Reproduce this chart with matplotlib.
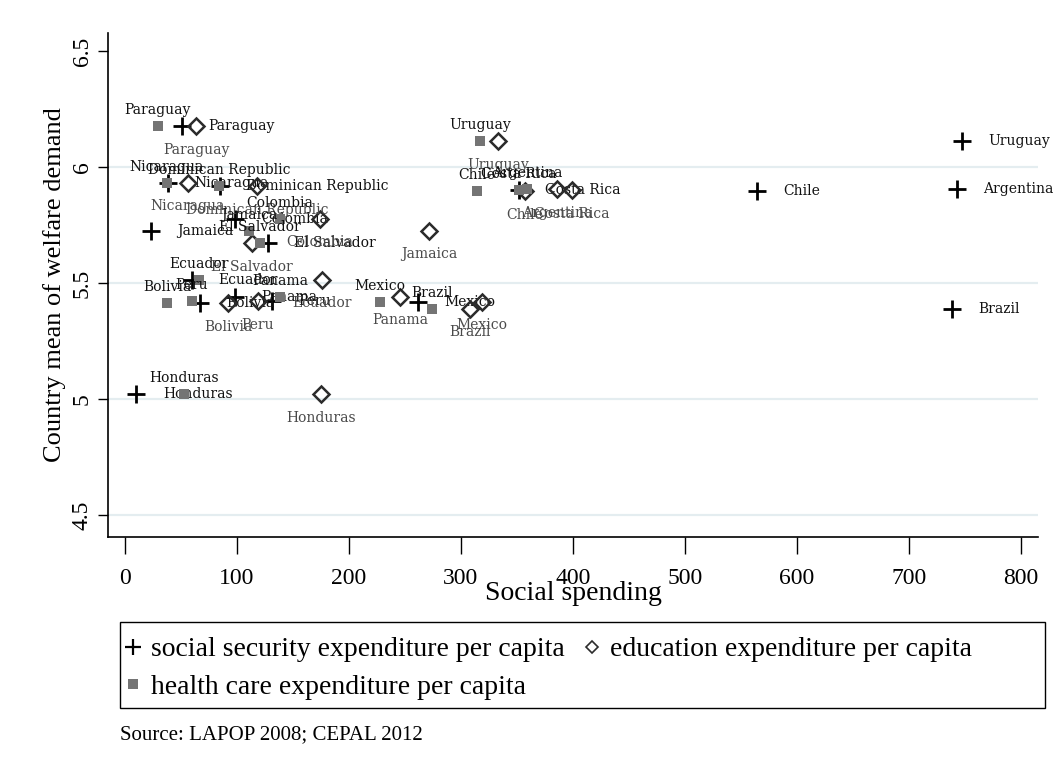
import matplotlib
matplotlib.use("Agg")
import matplotlib.pyplot as plt
from matplotlib.lines import Line2D
from matplotlib.patches import Rectangle

# Country means of welfare demand and per-capita social spending by category
countries = ["Argentina", "Bolivia", "Brazil", "Chile", "Colombia", "Costa Rica",
             "Dominican Republic", "Ecuador", "El Salvador", "Honduras", "Jamaica",
             "Mexico", "Nicaragua", "Panama", "Paraguay", "Peru", "Uruguay"]
welfare_demand = [5.905, 5.414, 5.390, 5.897, 5.778, 5.901,
                  5.918, 5.515, 5.672, 5.020, 5.726,
                  5.420, 5.933, 5.441, 6.177, 5.422, 6.112]
social_security = [742.8, 67.1, 738.8, 564.7, 98.4, 352.0,
                   85.0, 60.0, 127.9, 10.4, 23.4,
                   261.8, 38.6, 98.4, 51.1, 131.4, 747.2]
education = [385.9, 92.1, 308.2, 357.3, 174.3, 399.3,
             118.0, 176.0, 113.6, 175.2, 271.6,
             318.9, 56.4, 245.7, 63.6, 118.9, 333.2]
health = [359.5, 37.7, 274.3, 314.5, 138.6, 352.0,
          84.1, 66.3, 120.7, 52.9, 110.9,
          227.9, 37.7, 138.6, 29.6, 60.0, 317.1]

x_ticks = [0, 100, 200, 300, 400, 500, 600, 700, 800]
y_ticks = [4.5, 5, 5.5, 6, 6.5]
y_tick_labels = ["4.5", "5", "5.5", "6", "6.5"]

SERIF = ["Liberation Serif", "DejaVu Serif"]
LABEL_FONT = ["DejaVu Serif"]
plt.rcParams["font.family"] = SERIF

fig = plt.figure(figsize=(10.56, 7.69), dpi=100)
W, H = 1056, 769
ax = fig.add_axes([108 / W, 1 - 537 / H, (1038 - 108) / W, (537 - 33) / H])
ax.set_xlim(-15, 815.4)
ax.set_ylim(4.405, 6.578)

for s in ["top", "right"]:
    ax.spines[s].set_visible(False)
for s in ["left", "bottom"]:
    ax.spines[s].set_linewidth(1.2)
    ax.spines[s].set_color("black")

# light horizontal grid
for yv in y_ticks[:-1]:
    ax.axhline(yv, color="#e4edf0", lw=1.6, zorder=0)

ax.set_xticks(x_ticks)
ax.set_xticklabels([str(v) for v in x_ticks])
ax.set_yticks(y_ticks)
ax.set_yticklabels(y_tick_labels, rotation=90, va="center")
ax.tick_params(axis="x", length=12, width=1.0, pad=10, labelsize=17)
ax.tick_params(axis="y", length=7, width=1.0, pad=4, labelsize=17)

ax.set_xlabel("Social spending", fontsize=20, va="center")
ax.xaxis.set_label_coords(0.5, -(594 - 537) / 504)
ax.set_ylabel("Country mean of welfare demand", fontsize=19, va="center")
ax.yaxis.set_label_coords((55 - 108) / 930, 0.5)

# social security: plus markers, labels to the right
ax.plot(social_security, welfare_demand, ls="none", marker="+", ms=13, mew=2.0,
        color="black", zorder=3)
for name, xv, yv in zip(countries, social_security, welfare_demand):
    ax.annotate(name, (xv, yv), xytext=(19, 0), textcoords="offset points",
                ha="left", va="center", fontsize=10, fontfamily=LABEL_FONT,
                color="#111111", zorder=3.1)

# education: hollow diamonds, labels below
ax.plot(education, welfare_demand, ls="none", marker="D", ms=8.5, mew=1.8,
        mfc="none", mec="#2b2b2b", zorder=3.2)
for name, xv, yv in zip(countries, education, welfare_demand):
    ax.annotate(name, (xv, yv), xytext=(0, -17), textcoords="offset points",
                ha="center", va="center", fontsize=10, fontfamily=LABEL_FONT,
                color="#4a4a4a", zorder=3.3)

# health care: grey squares, labels above
ax.plot(health, welfare_demand, ls="none", marker="s", ms=7.5, mew=0,
        color="#747474", zorder=3.4)
for name, xv, yv in zip(countries, health, welfare_demand):
    ax.annotate(name, (xv, yv), xytext=(0, 11.5), textcoords="offset points",
                ha="center", va="center", fontsize=10, fontfamily=LABEL_FONT,
                color="#111111", zorder=3.5)

# legend: boxed key below the plot
fig.patches.append(Rectangle((120 / W, 1 - 708 / H), 925 / W, 86 / H,
                             transform=fig.transFigure, fill=False,
                             edgecolor="black", lw=1.0))
h_ss = Line2D([], [], ls="none", marker="+", ms=11, mew=1.6, color="black")
h_hc = Line2D([], [], ls="none", marker="s", ms=6.5, mew=0, color="#747474")
h_ed = Line2D([], [], ls="none", marker="D", ms=6.5, mew=1.2, mfc="none",
              mec="#2b2b2b")
leg_kw = dict(loc="upper left", frameon=False, borderpad=0, borderaxespad=0,
              handlelength=0.6, handletextpad=0.35, labelspacing=0.42,
              prop={"family": SERIF, "size": 20})
fig.legend([h_ss, h_hc], ["social security expenditure per capita",
                          "health care expenditure per capita"],
           bbox_to_anchor=(125 / W, 1 - 637 / H), **leg_kw)
fig.legend([h_ed], ["education expenditure per capita"],
           bbox_to_anchor=(584 / W, 1 - 637 / H), **leg_kw)

fig.text(120 / W, 1 - 735 / H, "Source: LAPOP 2008; CEPAL 2012",
         fontsize=15, va="center", ha="left")

fig.savefig("out.png", dpi=100)
